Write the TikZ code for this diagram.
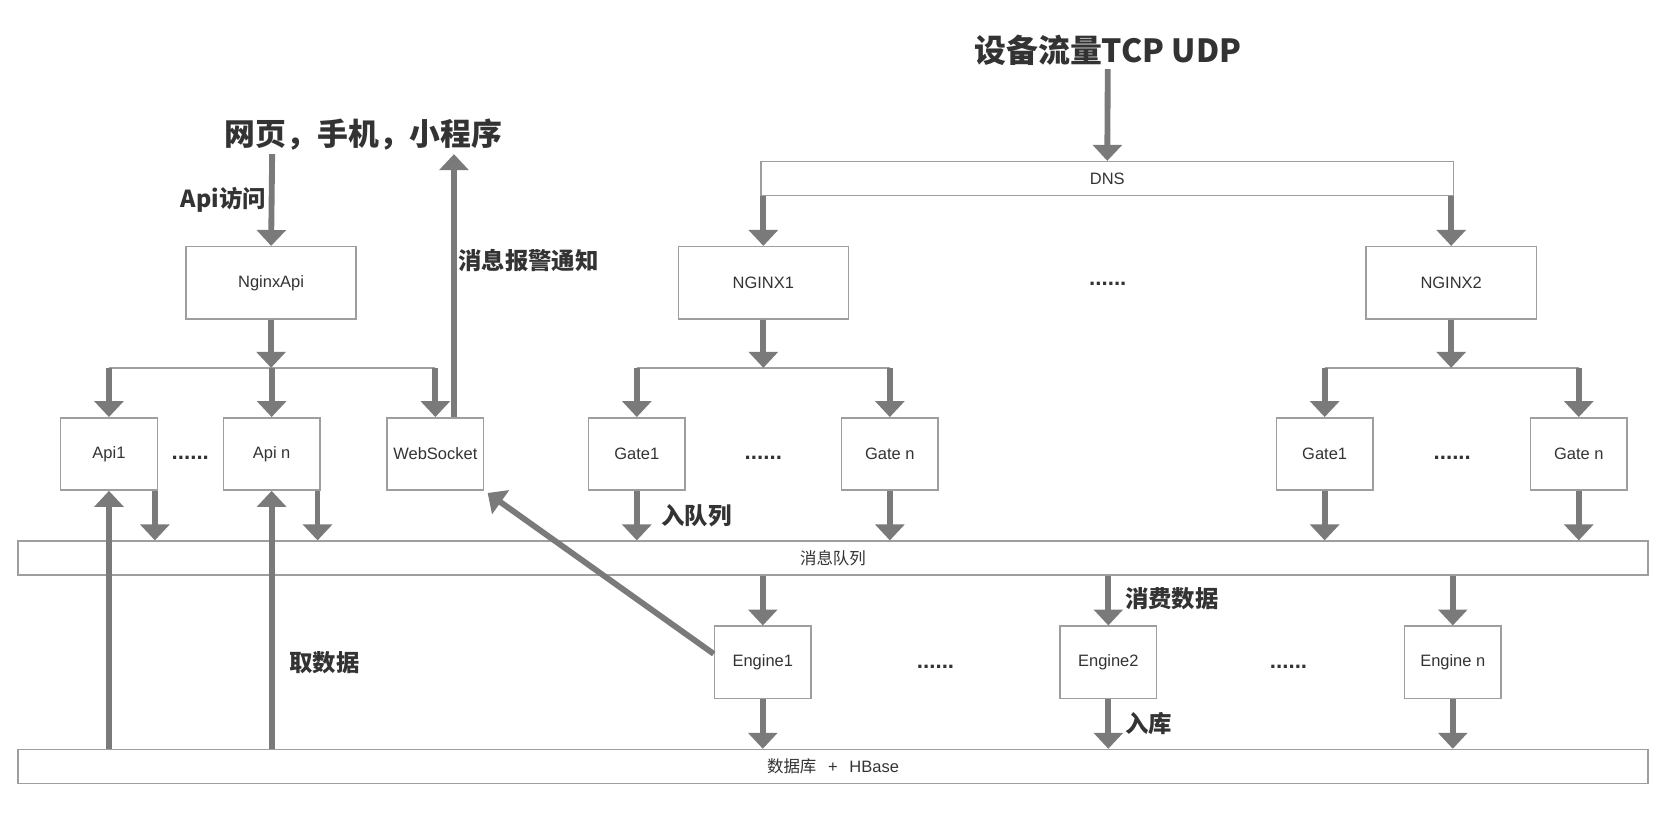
\documentclass[tikz,border=0pt]{standalone}
\usepackage{fontspec}
\setmainfont{Liberation Sans}
\newfontfamily\cjk{Noto Sans CJK SC}
\usetikzlibrary{arrows.meta,positioning}

\definecolor{flowgray}{HTML}{7A7A7A}
\definecolor{boxgray}{HTML}{9E9E9E}
\definecolor{bargray}{HTML}{A0A0A0}
\definecolor{inkgray}{HTML}{333333}

\begin{document}
\begin{tikzpicture}[
    x=1pt, y=-1pt,
    box/.style={draw=boxgray,line width=1.4pt,fill=white,minimum width=91pt,minimum height=68pt,inner sep=0pt,text=inkgray,font=\fontsize{15.5pt}{18pt}\selectfont},
    wide/.style={box,minimum width=160pt},
    band/.style={box,minimum height=32pt},
    title/.style={text=inkgray,inner sep=0pt,font=\cjk\bfseries\fontsize{30pt}{34pt}\selectfont},
    tag/.style={text=inkgray,inner sep=0pt,anchor=west,font=\cjk\bfseries\fontsize{22pt}{26pt}\selectfont},
    more/.style={text=inkgray,inner sep=0pt,font=\bfseries\fontsize{21pt}{24pt}\selectfont},
    flow/.style={draw=flowgray,line width=5.5pt,-{Triangle[width=27pt,length=15pt]}},
    bar/.style={draw=bargray,line width=2pt}
]
    \useasboundingbox (0,0) rectangle (1568,790);

    % sources
    \node[title] (devsrc) at (1042,47) {设备流量TCP UDP};
    \node[title,font=\cjk\bfseries\fontsize{29pt}{33pt}\selectfont] (client) at (342,127) {网页，手机，小程序};
    \coordinate (devOut) at (1042,65);
    \coordinate (clientOut) at (256,145);
    \coordinate (clientIn) at (427,145);

    % boxes
    \node[band,minimum width=651pt] (dns) at (1041.5,168) {DNS};
    \node[wide] (nginxapi) at (255,266) {NginxApi};
    \node[wide] (nginx1)   at (718,266) {NGINX1};
    \node[wide] (nginx2)   at (1365,266) {NGINX2};

    \node[box] (api1)   at (102.5,427) {Api1};
    \node[box] (apin)   at (255.5,427) {Api n};
    \node[box] (ws)     at (409.5,427) {WebSocket};
    \node[box] (gate1a) at (599,427)   {Gate1};
    \node[box] (gatena) at (837,427)   {Gate n};
    \node[box] (gate1b) at (1246,427)  {Gate1};
    \node[box] (gatenb) at (1485,427)  {Gate n};

    \node[band,minimum width=1533pt] (mq) at (783.5,525) {\cjk 消息队列};

    \node[box] (eng1) at (717.5,623)  {Engine1};
    \node[box] (eng2) at (1042.5,623) {Engine2};
    \node[box] (engn) at (1366.5,623) {Engine n};

    \node[band,minimum width=1533pt] (db) at (783.5,721) {{\cjk 数据库}\hspace{11pt}+\hspace{11pt}HBase};

    \node[more] (dotsA) at (179,431)  {......};
    \node[more] (dotsB) at (718,431)  {......};
    \node[more] (dotsC) at (1366,431) {......};
    \node[more] (dotsD) at (1042,267) {......};
    \node[more] (dotsE) at (880,627)  {......};
    \node[more] (dotsF) at (1212,627) {......};

    % branch points
    \coordinate (apiJ)  at (255,346);
    \coordinate (leftJ) at (718,346);
    \coordinate (rightJ) at (1365,346);

    % top flows
    \draw[flow] (devOut) -- (dns.north);
    \draw[flow] (nginx1.north |- dns.south) -- (nginx1.north);
    \draw[flow] (nginx2.north |- dns.south) -- (nginx2.north);
    \draw[flow] (clientOut) -- (nginxapi.north);
    \draw[flow] ([xshift=17.5pt]ws.north) -- (clientIn);

    % branches
    \draw[bar] (api1.north |- apiJ) -- (ws.north |- apiJ);
    \draw[bar] (gate1a.north |- leftJ) -- (gatena.north |- leftJ);
    \draw[bar] (gate1b.north |- rightJ) -- (gatenb.north |- rightJ);
    \draw[flow] (nginxapi.south) -- (apiJ);
    \draw[flow] (nginx1.south) -- (leftJ);
    \draw[flow] (nginx2.south) -- (rightJ);
    \foreach \b in {api1,apin,ws}
        \draw[flow] (\b.north |- apiJ) -- (\b.north);
    \foreach \b in {gate1a,gatena}
        \draw[flow] (\b.north |- leftJ) -- (\b.north);
    \foreach \b in {gate1b,gatenb}
        \draw[flow] (\b.north |- rightJ) -- (\b.north);

    % into the queue
    \foreach \b in {api1,apin}
        \draw[flow] ([xshift=-3pt]\b.south east) -- ([xshift=-3pt]\b.south east |- mq.north);
    \foreach \b in {gate1a,gatena,gate1b,gatenb}
        \draw[flow] (\b.south) -- (\b.south |- mq.north);

    % engines
    \foreach \e in {eng1,eng2,engn} {
        \draw[flow] (\e.north |- mq.south) -- (\e.north);
        \draw[flow] (\e.south) -- (\e.south |- db.north);
    }

    % reads and alerts
    \draw[flow] (api1.south |- db.north) -- (api1.south);
    \draw[flow] (apin.south |- db.north) -- (apin.south);
    \draw[flow] ([yshift=8pt]eng1.west) -- ([shift={(3pt,-2pt)}]ws.south east);

    % labels
    \node[tag] (tagApi)   at (170,188)  {Api访问};
    \node[tag] (tagAlarm) at (431,245)  {消息报警通知};
    \node[tag] (tagIn)    at (622,485)  {入队列};
    \node[tag] (tagRead)  at (272,623)  {取数据};
    \node[tag] (tagUse)   at (1058,563) {消费数据};
    \node[tag] (tagStore) at (1058,681) {入库};
\end{tikzpicture}
\end{document}
